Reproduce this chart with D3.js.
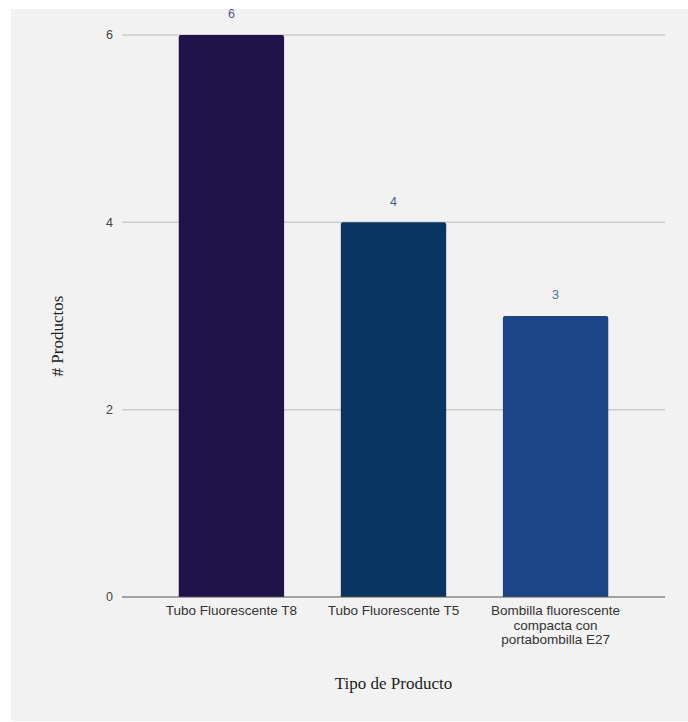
<!DOCTYPE html>
<html><head><meta charset="utf-8">
<script src="https://cdn.jsdelivr.net/npm/d3@7"></script>
<style>body{margin:0;background:#fff}</style>
</head><body>
<svg id="c" width="688" height="722"></svg>
<script>
const categories = [["Tubo Fluorescente T8"],["Tubo Fluorescente T5"],["Bombilla fluorescente","compacta con","portabombilla E27"]];
const values = [6,4,3];
const barColors = ["#20134a","#083660","#1c4587"];
const labelColors = ["#5c5580","#3f5f8c","#4a6fae"];
const yTicks = [0,2,4,6];
const xTitle = "Tipo de Producto";
const yTitle = "# Productos";

(function(){
const svg = d3.select("#c");
svg.append("rect").attr("x",11).attr("y",9).attr("width",677).attr("height",712).attr("fill","#f2f2f2");

const mLeft=122, mRight=665, mTop=35, mBottom=597;
const ids = categories.map((d,i)=>i);
const x = d3.scaleBand().domain(ids).range([mLeft,mRight]).padding(0.35);
const y = d3.scaleLinear().domain([0,6]).range([mBottom,mTop]);

svg.append("g").selectAll("line").data(yTicks.filter(t=>t>0)).join("line")
  .attr("x1",mLeft).attr("x2",mRight).attr("y1",d=>y(d)).attr("y2",d=>y(d))
  .attr("stroke","#cccccc").attr("stroke-width",1.5);

svg.append("g").selectAll("text").data(yTicks).join("text")
  .attr("x",113).attr("y",d=>y(d)).attr("dy","0.35em").attr("text-anchor","end")
  .attr("font-family","Liberation Sans, Arial, sans-serif").attr("font-size",12.5).attr("fill","#444")
  .text(d=>d);

svg.append("g").selectAll("path").data(values).join("path")
  .attr("d",(d,i)=>{
    const x0=x(i), w=x.bandwidth(), y0=y(d), y1=y(0), r=2;
    return `M${x0},${y1}V${y0+r}Q${x0},${y0} ${x0+r},${y0}H${x0+w-r}Q${x0+w},${y0} ${x0+w},${y0+r}V${y1}Z`;
  })
  .attr("fill",(d,i)=>barColors[i]);

svg.append("g").selectAll("text").data(values).join("text")
  .attr("x",(d,i)=>x(i)+x.bandwidth()/2).attr("y",d=>y(d)-21)
  .attr("text-anchor","middle").attr("dy","0.35em")
  .attr("font-family","Liberation Sans, Arial, sans-serif").attr("font-size",12.5)
  .attr("fill",(d,i)=>labelColors[i]).text(d=>d);

svg.append("line").attr("x1",mLeft).attr("x2",mRight).attr("y1",y(0)).attr("y2",y(0))
  .attr("stroke","#555").attr("stroke-width",1.2);

const cat = svg.append("g").selectAll("text").data(categories).join("text")
  .attr("x",(d,i)=>x(i)+x.bandwidth()/2).attr("y",615)
  .attr("text-anchor","middle")
  .attr("font-family","Liberation Sans, Arial, sans-serif").attr("font-size",13.5).attr("fill","#333");
cat.selectAll("tspan").data(d=>d).join("tspan")
  .attr("x",function(){return this.parentNode.getAttribute("x");})
  .attr("dy",(d,i)=>i===0?0:14.5).text(d=>d);

svg.append("text").attr("x",(mLeft+mRight)/2).attr("y",689).attr("text-anchor","middle")
  .attr("font-family","Liberation Serif, Times New Roman, serif").attr("font-size",17).attr("fill","#222")
  .text(xTitle);
svg.append("text").attr("transform",`translate(63,${(mTop+mBottom)/2+20}) rotate(-90)`).attr("text-anchor","middle")
  .attr("font-family","Liberation Serif, Times New Roman, serif").attr("font-size",17).attr("fill","#222")
  .text(yTitle);
})();
</script>
</body></html>
